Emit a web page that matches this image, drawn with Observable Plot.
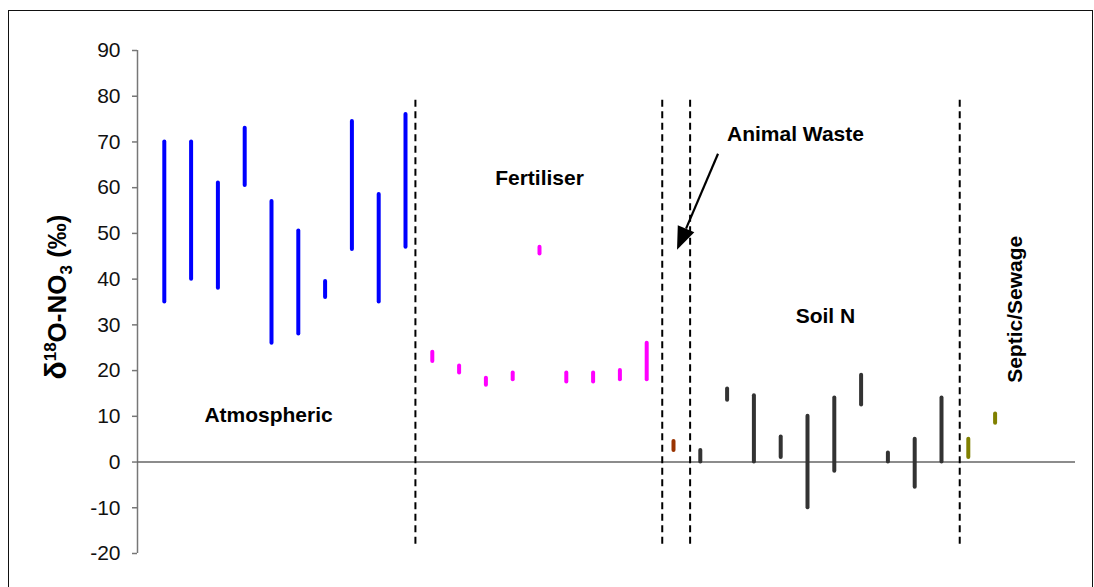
<!DOCTYPE html>
<html>
<head>
<meta charset="utf-8">
<script src="https://cdn.jsdelivr.net/npm/d3@7"></script>
<script src="https://cdn.jsdelivr.net/npm/@observablehq/plot@0.6"></script>
<style>
  body { margin: 0; background: #fff; }
  #wrap { position: relative; width: 1094px; height: 587px; overflow: hidden; }
  #border { position: absolute; left: 8px; top: 10px; width: 1085px; height: 620px;
            border: 1.5px solid #111; box-sizing: border-box; pointer-events: none; }
</style>
</head>
<body>
<div id="wrap"><div id="chart"></div><div id="border"></div></div>
<script>
// δ18O ranges of nitrate by source (‰), one vertical range per study
const sources   = ["Atmospheric", "Fertiliser", "Animal Waste", "Soil N", "Septic/Sewage"];
const atmLow    = [35, 40, 38, 60.5, 26, 28, 36, 46.5, 35, 47];
const atmHigh   = [70, 70, 61, 73, 57, 50.5, 39.5, 74.5, 58.5, 76];
const fertLow   = [22, 19.5, 16.8, 18, 45.5, 17.5, 17.5, 18, 18];
const fertHigh  = [24, 21, 18.3, 19.5, 47, 19.5, 19.5, 20, 26];
const animalLow = [2.5];
const animalHigh= [4.5];
const soilLow   = [0, 13.5, 0, 1, -10, -2, 12.5, 0, -5.5, 0];
const soilHigh  = [2.5, 16, 14.5, 5.5, 10, 14, 19, 2, 5, 14];
const septicLow = [1, 8.5];
const septicHigh= [5, 10.5];
const yTicks    = [-20, -10, 0, 10, 20, 30, 40, 50, 60, 70, 80, 90];

const colors = {
  "Atmospheric": "#0000ff",
  "Fertiliser": "#ff00ff",
  "Animal Waste": "#993300",
  "Soil N": "#333333",
  "Septic/Sewage": "#808000"
};

// one row per range, numbered left to right
const groups = [
  [atmLow, atmHigh], [fertLow, fertHigh], [animalLow, animalHigh],
  [soilLow, soilHigh], [septicLow, septicHigh]
];
const ranges = [];
groups.forEach(([lo, hi], g) => {
  lo.forEach((v, i) => ranges.push({n: ranges.length + 1, source: sources[g], low: v, high: hi[i]}));
});

// boundaries between source groups
const dividers = [10.37, 19.58, 20.62, 30.68];

// group captions
const captions = [
  {text: "Atmospheric",  x: 4.89,  y: 10.2, rotate: 0},
  {text: "Fertiliser",   x: 15.0,  y: 62,   rotate: 0},
  {text: "Animal Waste", x: 24.55, y: 71.6, rotate: 0},
  {text: "Soil N",       x: 25.67, y: 31.9, rotate: 0},
  {text: "Septic/Sewage",x: 32.76, y: 33.4, rotate: -90}
];

// pointer from the "Animal Waste" caption to its range
const arrowFrom = [21.68, 67.3];
const arrowTo   = [20.15, 46.3];

function pointer(index, {x, y}) {
  const x1 = x(arrowFrom[0]), y1 = y(arrowFrom[1]);
  const x2 = x(arrowTo[0]),   y2 = y(arrowTo[1]);
  const a = Math.atan2(y2 - y1, x2 - x1);
  const L = 23, W = 9;
  const bx = x2 - L * Math.cos(a), by = y2 - L * Math.sin(a);
  const g = d3.create("svg:g");
  g.append("line")
    .attr("x1", x1).attr("y1", y1).attr("x2", bx).attr("y2", by)
    .attr("stroke", "#000").attr("stroke-width", 2.2);
  g.append("path")
    .attr("d", `M${x2},${y2}L${bx + W * Math.sin(a)},${by - W * Math.cos(a)}L${bx - W * Math.sin(a)},${by + W * Math.cos(a)}Z`)
    .attr("fill", "#000");
  return g.node();
}

const chart = Plot.plot({
  width: 1094,
  height: 587,
  marginLeft: 137,
  marginRight: 19,
  marginTop: 50,
  marginBottom: 34,
  style: {background: "transparent", fontFamily: "'Liberation Sans', Arial, sans-serif"},
  x: {domain: [0, 35], axis: null},
  y: {domain: [-20, 90], axis: null},
  marks: [
    Plot.axisY({
      ticks: yTicks, tickSize: 5, tickPadding: 12, fontSize: 21,
      tickFormat: d => String(d), stroke: "#777", strokeWidth: 1.5,
      color: "#111", label: null
    }),
    Plot.ruleX([0], {y1: -20, y2: 90, stroke: "#777", strokeWidth: 1.5}),
    Plot.ruleY([0], {x1: 0, x2: 35, stroke: "#666", strokeWidth: 1.5}),
    Plot.ruleX(dividers, {y1: -18, y2: 80, stroke: "#000", strokeWidth: 2, strokeDasharray: "7,4.5"}),
    Plot.ruleX(ranges, {
      x: "n", y1: "low", y2: "high",
      stroke: d => colors[d.source], strokeWidth: 4, strokeLinecap: "round"
    }),
    Plot.text(captions, {
      x: "x", y: "y", text: "text", rotate: "rotate",
      fontSize: 21, fontWeight: "bold", fill: "#000"
    }),
    pointer
  ]
});

document.getElementById("chart").appendChild(chart);

// y-axis title with superscript and subscript
const svg = d3.select(chart.tagName.toLowerCase() === "svg" ? chart : chart.querySelector("svg"));
const title = svg.append("text")
  .attr("transform", "translate(66,297) rotate(-90)")
  .attr("text-anchor", "middle")
  .attr("font-family", "'Liberation Sans', Arial, sans-serif")
  .attr("font-weight", "bold")
  .attr("font-size", 26)
  .attr("fill", "#000");
title.append("tspan").attr("font-size", 30).text("δ");
title.append("tspan").attr("dy", -10).attr("font-size", 17).text("18");
title.append("tspan").attr("dy", 10).text("O-NO");
title.append("tspan").attr("dy", 6).attr("font-size", 17).text("3");
title.append("tspan").attr("dy", -6).text(" (‰)");
</script>
</body>
</html>
